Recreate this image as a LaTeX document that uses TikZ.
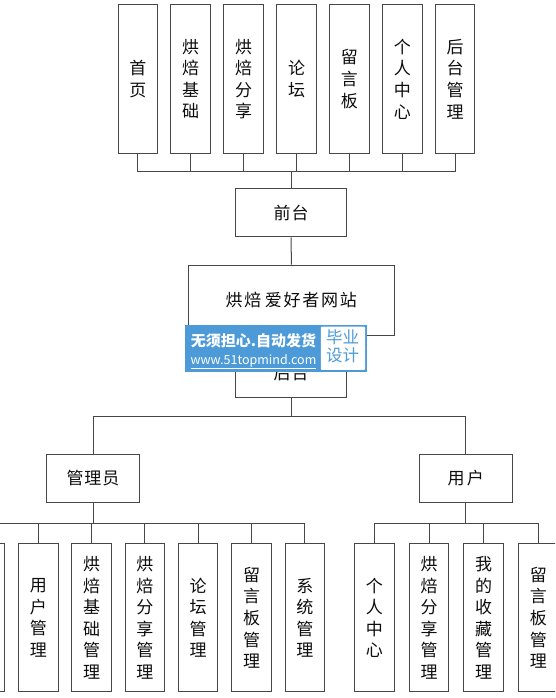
\documentclass[tikz,border=0pt]{standalone}
\usepackage{fontspec}
\setmainfont{Noto Sans CJK SC}
\usetikzlibrary{positioning,calc}
\definecolor{chartLine}{gray}{0.28}
\definecolor{chartText}{gray}{0.05}
\definecolor{markBlue}{RGB}{76,155,216}

\begin{document}
\begin{tikzpicture}[x=1pt, y=-1pt,
      box/.style={draw=chartLine, line width=1pt, fill=white, inner sep=0pt,
                  align=center, text=chartText, font=\fontsize{17}{21.6}\selectfont},
      tallbox/.style={box, minimum width=39.5pt, minimum height=148pt},
      headbox/.style={box, minimum height=48.5pt},
      link/.style={draw=chartLine, line width=1pt},
      wmark/.style={fill=markBlue, inner sep=0pt, minimum width=181.7pt, minimum height=46.7pt},
      wmtag/.style={fill=white, rounded corners=1pt, inner sep=0pt,
                    minimum width=44.3pt, minimum height=43.3pt}]
    \useasboundingbox (0,0) rectangle (555,698);
    \clip (0,0) rectangle (555,698);

    % front pages
    \node[tallbox] (f1) at (137.8,79) {首\\页};
    \node[tallbox] (f2) at (190.7,79) {烘\\焙\\基\\础};
    \node[tallbox] (f3) at (243.6,79) {烘\\焙\\分\\享};
    \node[tallbox] (f4) at (296.5,79) {论\\坛};
    \node[tallbox] (f5) at (349.4,79) {留\\言\\板};
    \node[tallbox] (f6) at (402.3,79) {个\\人\\中\\心};
    \node[tallbox] (f7) at (455.2,79) {后\\台\\管\\理};

    \node[headbox, minimum width=111pt] (front) at (291.2,212.5)
      {前\hspace{1pt}台};
    \node[box, minimum width=206pt, minimum height=70.7pt] (site) at (291.3,300.4)
      {烘\hspace{1.8pt}焙\hspace{3.4pt}爱\hspace{1.8pt}好\hspace{1.8pt}者\hspace{1.8pt}网\hspace{1.8pt}站};
    \node[headbox, minimum width=111pt] (back) at (291.2,373.2)
      {后\hspace{1pt}台};

    \node[headbox, minimum width=92.6pt] (admin) at (93,478.4)
      {管\hspace{1pt}理\hspace{1pt}员};
    \node[headbox, minimum width=93.3pt] (user) at (465.7,478.4)
      {用\hspace{2.4pt}户};

    % admin pages
    \node[tallbox] (a0) at (-15,617.8) {};
    \node[tallbox] (a1) at (38.3,617.8) {用\\户\\管\\理};
    \node[tallbox] (a2) at (91.6,617.8) {烘\\焙\\基\\础\\管\\理};
    \node[tallbox] (a3) at (144.9,617.8) {烘\\焙\\分\\享\\管\\理};
    \node[tallbox] (a4) at (198.2,617.8) {论\\坛\\管\\理};
    \node[tallbox] (a5) at (251.5,617.8) {留\\言\\板\\管\\理};
    \node[tallbox] (a6) at (304.8,617.8) {系\\统\\管\\理};

    % user pages
    \node[tallbox] (u1) at (374.3,617.8) {个\\人\\中\\心};
    \node[tallbox] (u2) at (429,617.8)   {烘\\焙\\分\\享\\管\\理};
    \node[tallbox] (u3) at (483.7,617.8) {我\\的\\收\\藏\\管\\理};
    \node[tallbox] (u4) at (538.4,617.8) {留\\言\\板\\管\\理};

    \coordinate (fbus) at (0,171.7);
    \coordinate (bbus) at (0,416.7);
    \coordinate (abus) at (0,523.3);

    \draw[link] (f1.south) -- (f1.south |- fbus) -- (f7.south |- fbus) -- (f7.south);
    \draw[link] (f2.south) -- (f2.south |- fbus);
    \draw[link] (f3.south) -- (f3.south |- fbus);
    \draw[link] (f4.south) -- (f4.south |- fbus);
    \draw[link] (f5.south) -- (f5.south |- fbus);
    \draw[link] (f6.south) -- (f6.south |- fbus);
    \draw[link] (front.north) -- (front.north |- fbus);

    \draw[link] (front) -- (site);
    \draw[link] (site) -- (back);
    \draw[link] (back.south) -- (back.south |- bbus);
    \draw[link] (admin.north) |- (user.north |- bbus) -- (user.north);

    \draw[link] (admin.south) -- (admin.south |- abus);
    \draw[link] (a0.north) -- (a0.north |- abus) -- (a6.north |- abus) -- (a6.north);
    \draw[link] (a1.north) -- (a1.north |- abus);
    \draw[link] (a2.north) -- (a2.north |- abus);
    \draw[link] (a3.north) -- (a3.north |- abus);
    \draw[link] (a4.north) -- (a4.north |- abus);
    \draw[link] (a5.north) -- (a5.north |- abus);

    \draw[link] (user.south) -- (user.south |- abus);
    \draw[link] (u1.north) -- (u1.north |- abus) -- (u4.north |- abus) -- (u4.north);
    \draw[link] (u2.north) -- (u2.north |- abus);
    \draw[link] (u3.north) -- (u3.north |- abus);

    % overlay mark
    \node[wmark] (wm) at (275.9,348.3) {};
    \node[wmtag] (wmtag) at (342.9,348.3) {};
    \node[text=white, font=\bfseries\fontsize{15}{15}\selectfont, inner sep=0pt]
      (wmtop) at (253.5,341.2) {无须担心.自动发货};
    \node[text=white, font=\fontsize{12.5}{12.5}\selectfont, inner sep=0pt]
      (wmurl) at (253.5,361.8) {\underline{www.51topmind.com}};
    \node[text=markBlue, align=center, font=\fontsize{16.5}{18}\selectfont, inner sep=0pt]
      (wmword) at (342.5,346) {毕业\\设计};
  \end{tikzpicture}
\end{document}
